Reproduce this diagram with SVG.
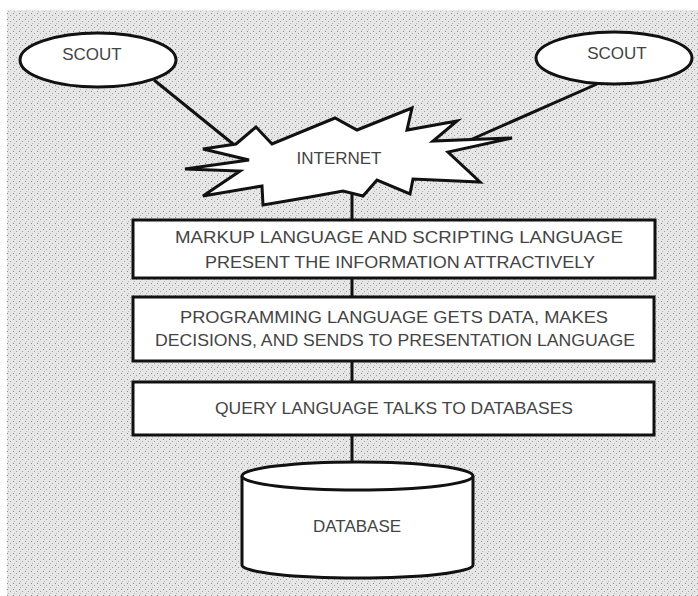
<svg xmlns="http://www.w3.org/2000/svg" width="698" height="596" viewBox="0 0 698 596">
<style>
.shape{fill:#ffffff;stroke:#111111;stroke-width:3;stroke-linejoin:miter}
.conn{stroke:#111111;stroke-width:3;fill:none}
.t{font-family:"Liberation Sans",Arial,sans-serif;font-size:17px;fill:#444444;text-anchor:middle;dominant-baseline:central}
</style>
<defs>
<pattern id="stip" width="6" height="6" patternUnits="userSpaceOnUse">
<rect width="6" height="6" fill="#e6e6e6"/>
<rect x="1" y="1" width="1" height="1" fill="#8a8a8a"/>
<rect x="4" y="3" width="1" height="1" fill="#a0a0a0"/>
<rect x="2" y="5" width="1" height="1" fill="#b5b5b5"/>
</pattern>
</defs>
<rect x="7" y="10" width="691" height="586" fill="url(#stip)"/>
<g id="connectors">
<line class="conn" x1="154" y1="80" x2="238" y2="148"/>
<line class="conn" x1="597" y1="84" x2="470" y2="140"/>
<line class="conn" x1="352" y1="192" x2="352" y2="220"/>
<line class="conn" x1="352" y1="278" x2="352" y2="297"/>
<line class="conn" x1="352" y1="361" x2="352" y2="382"/>
<line class="conn" x1="352" y1="435" x2="352" y2="463"/>
</g>
<g id="scout-left">
<ellipse class="shape" cx="98" cy="60" rx="78" ry="27"/>
<text class="t" x="92" y="54">SCOUT</text>
</g>
<g id="scout-right">
<ellipse class="shape" cx="614" cy="58" rx="78" ry="26"/>
<text class="t" x="617" y="53">SCOUT</text>
</g>
<g id="internet">
<polygon class="shape" points="203,149 236,144 256,127 272,144 335,118 357,130 412,108 407,130 457,121 433,141 512,138 448,152 480,182 413,179 410,194 377,180 363,196 343,191 310,197 263,205 262,186 203,196 240,171 185,169 249,160"/>
<text class="t" x="339" y="158">INTERNET</text>
</g>
<g id="markup">
<rect class="shape" x="133" y="220" width="522" height="58"/>
<text class="t" x="399" y="237" textLength="448" lengthAdjust="spacingAndGlyphs">MARKUP LANGUAGE AND SCRIPTING LANGUAGE</text>
<text class="t" x="400" y="262" textLength="390" lengthAdjust="spacingAndGlyphs">PRESENT THE INFORMATION ATTRACTIVELY</text>
</g>
<g id="programming">
<rect class="shape" x="133" y="297" width="521" height="64"/>
<text class="t" x="394" y="317" textLength="428" lengthAdjust="spacingAndGlyphs">PROGRAMMING LANGUAGE GETS DATA, MAKES</text>
<text class="t" x="395" y="340" textLength="480" lengthAdjust="spacingAndGlyphs">DECISIONS, AND SENDS TO PRESENTATION LANGUAGE</text>
</g>
<g id="query">
<rect class="shape" x="133" y="382" width="521" height="53"/>
<text class="t" x="394" y="408" textLength="358" lengthAdjust="spacingAndGlyphs">QUERY LANGUAGE TALKS TO DATABASES</text>
</g>
<g id="database">
<path class="shape" d="M242,476 L242,565 A115,13 0 0 0 473,565 L473,476 A115.5,14 0 0 0 242,476 Z"/>
<path class="shape" fill="none" d="M242,476 A115.5,14 0 0 0 473,476"/>
<text class="t" x="357" y="526">DATABASE</text>
</g>
</svg>
